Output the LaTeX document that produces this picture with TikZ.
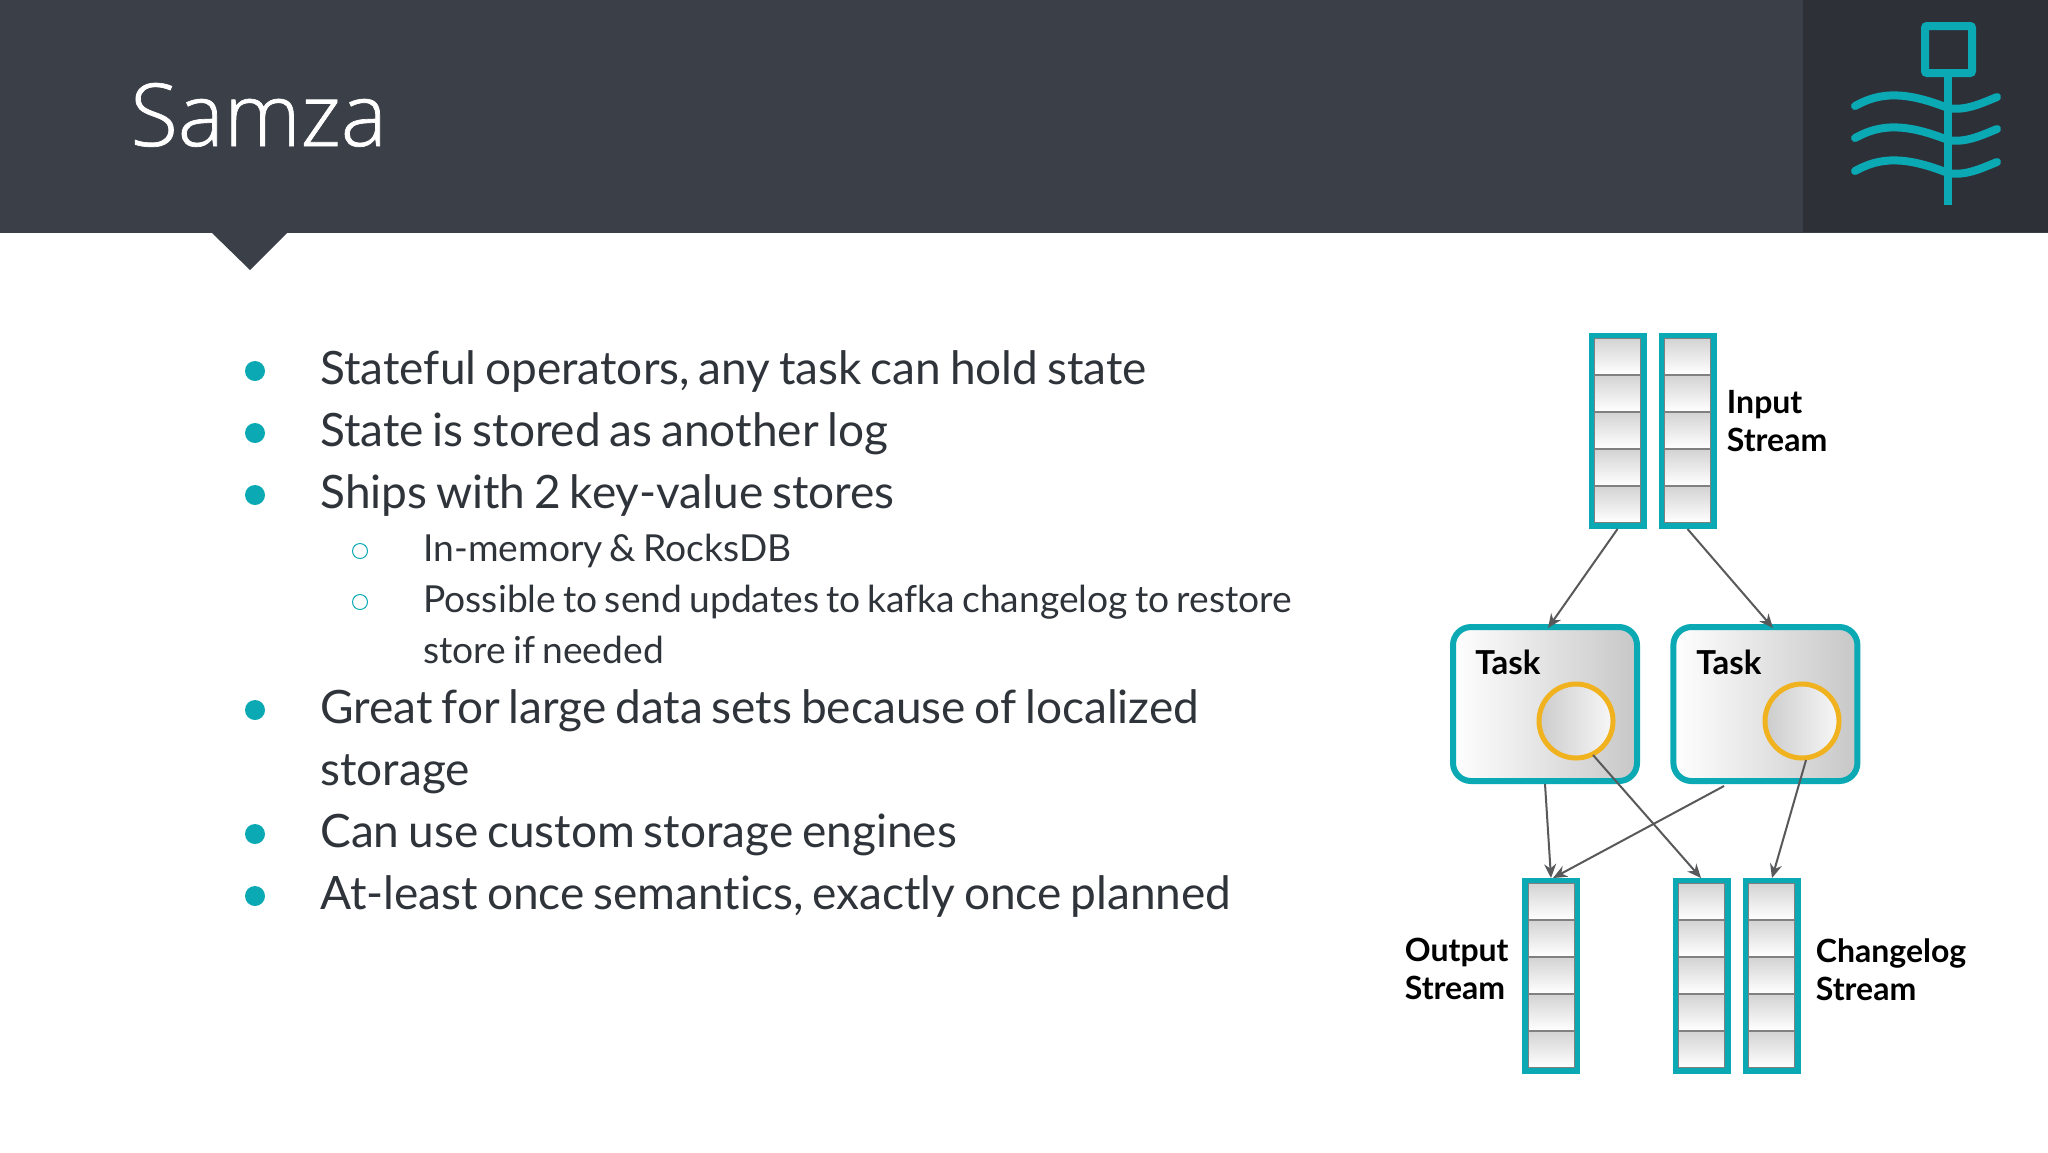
\documentclass[tikz,border=0pt]{standalone}
\usepackage{fontspec}
\usepackage{tikz}
\usetikzlibrary{positioning,arrows.meta,calc}
\setmainfont[Ligatures=NoCommon,WordSpace=0.75]{Lato}
\newfontfamily\titlefont[UprightFont=* Light,FakeBold=0.8]{Open Sans}
\newfontfamily\labelfont[Ligatures=NoCommon]{Lato}

\definecolor{headdark}{HTML}{3B3F48}
\definecolor{paneldark}{HTML}{2E3038}
\definecolor{tealline}{HTML}{0AA9B4}
\definecolor{textdark}{HTML}{2F333A}
\definecolor{arrowgray}{HTML}{58595B}
\definecolor{ringyellow}{HTML}{F0B21E}

\tikzset{
  head/.style={font=\titlefont\fontsize{43.5}{43.5}\selectfont, text=white, inner sep=0pt, anchor=base west},
  bodyline/.style={font=\fontsize{23}{23}\selectfont, text=textdark, inner sep=0pt, anchor=base west},
  subline/.style={font=\fontsize{18.6}{18.6}\selectfont, text=textdark, inner sep=0pt, anchor=base west},
  bigdot/.style={circle, fill=tealline, inner sep=0pt, minimum size=10pt},
  smalldot/.style={circle, draw=tealline, line width=0.5pt, inner sep=0pt, minimum size=7.5pt},
  streambox/.style={draw=tealline, line width=2.8pt, fill=white, inner sep=0pt, minimum width=26.2pt, minimum height=95.2pt},
  cellbox/.style={draw=gray, line width=0.5pt, top color=black!17, bottom color=white, inner sep=0pt, minimum width=23pt, minimum height=17.7pt},
  taskbox/.style={draw=tealline, line width=3pt, rounded corners=9pt, left color=white, middle color=black!7, right color=black!22, inner sep=0pt, minimum width=92pt, minimum height=77pt},
  storering/.style={circle, draw=ringyellow, line width=2.5pt, left color=black!20, right color=black!3, inner sep=0pt, minimum size=37pt},
  tasktext/.style={font=\labelfont\bfseries\fontsize{16.5}{17}\selectfont, text=black, inner sep=0pt, anchor=base west},
  sidetext/.style={font=\labelfont\bfseries\fontsize{16}{19}\selectfont, text=black, inner sep=0pt, align=left},
  flow/.style={draw=arrowgray, line width=1pt, -{Stealth[length=7pt,width=6pt]}},
  iconline/.style={draw=tealline, line width=4pt, line cap=round},
}

\newcommand{\streamcells}[1]{
  \node[cellbox, below=2.7pt of #1.north] (#1c1) {};
  \foreach \i [remember=\i as \last (initially 1)] in {2,...,5} {
    \node[cellbox, below=0.3pt of #1c\last] (#1c\i) {};
  }
}

\begin{document}
\begin{tikzpicture}[x=0.5pt, y=-0.5pt]
  \useasboundingbox (0,0) rectangle (2048,1152);
  \fill[white] (0,0) rectangle (2048,1152);

  % header
  \fill[headdark] (0,0) rectangle (2048,233);
  \fill[paneldark] (1803,0) rectangle (2048,232);
  \fill[headdark] (211,232) -- (288,232) -- (250,270) -- cycle;
  \node[head] (title) at (130,146) {Samza};

  % logo
  \draw[tealline, line width=4pt, rounded corners=1pt] (1925,26) rectangle (1972,73);
  \draw[tealline, line width=4pt] (1948,77) -- (1948,205);
  \foreach \dy in {0,32,65} {
    \draw[iconline, yshift=-\dy*0.5pt] (1855,106) .. controls (1880,92) and (1905,91) .. (1948,108) .. controls (1965,111) and (1980,104) .. (1997,97);
  }

  % list
  \node[bigdot] (dot1) at (255,371) {};
  \node[bigdot] (dot2) at (255,433) {};
  \node[bigdot] (dot3) at (255,495) {};
  \node[bigdot] (dot4) at (255,710) {};
  \node[bigdot] (dot5) at (255,834) {};
  \node[bigdot] (dot6) at (255,896) {};
  \node[smalldot] (sub1) at (360,551) {};
  \node[smalldot] (sub2) at (360,602) {};
  \node[bodyline] (line1) at (320,384) {Stateful operators, any task can hold state};
  \node[bodyline] (line2) at (320,446) {State is stored as another log};
  \node[bodyline] (line3) at (320,508) {Ships with 2 key-value stores};
  \node[subline] (line4) at (423,561) {In-memory \& RocksDB};
  \node[subline] (line5) at (423,612) {Possible to send updates to kafka changelog to restore};
  \node[subline] (line6) at (423,663) {store if needed};
  \node[bodyline] (line7) at (320,723) {Great for large data sets because of localized};
  \node[bodyline] (line8) at (320,785) {storage};
  \node[bodyline] (line9) at (320,847) {Can use custom storage engines};
  \node[bodyline] (line10) at (320,909) {At-least once semantics, exactly once planned};

  % streams
  \node[streambox] (in1) at (1617.5,431) {};
  \node[streambox, right=6pt of in1] (in2) {};
  \node[streambox] (out1) at (1551,976) {};
  \node[streambox] (log1) at (1701.5,976) {};
  \node[streambox, right=6pt of log1] (log2) {};
  \streamcells{in1}
  \streamcells{in2}
  \streamcells{out1}
  \streamcells{log1}
  \streamcells{log2}
  \node[sidetext, right=5pt of in2, yshift=5pt, anchor=west] (inlabel) {Input\\Stream};
  \node[sidetext, left=6.5pt of out1, yshift=3.3pt, anchor=east] (outlabel) {Output\\Stream};
  \node[sidetext, right=7.5pt of log2, yshift=3.3pt, anchor=west] (loglabel) {Changelog\\Stream};

  % tasks
  \node[taskbox] (task1) at (1545,704) {};
  \node[taskbox, right=15.2pt of task1] (task2) {};
  \node[storering] (store1) at (1576,721) {};
  \node[storering] (store2) at (1802,721) {};
  \node[tasktext] (tasktext1) at (1475,674) {Task};
  \node[tasktext] (tasktext2) at (1696,674) {Task};

  % flows
  \coordinate (t1top) at (1548,628);
  \coordinate (t2top) at (1773,628);
  \coordinate (t2free) at (1724,786);
  \coordinate (o1a) at (1551,878);
  \coordinate (o1b) at (1553,878);
  \coordinate (l1top) at (1701,878);
  \coordinate (l2top) at (1772,878);
  \coordinate (s1out) at (1593,755);
  \coordinate (s2out) at (1806,760);
  \draw[flow] (in1.south) -- (t1top);
  \draw[flow] (in2.south) -- (t2top);
  \draw[flow] (task1.south) -- (o1a);
  \draw[flow] (t2free) -- (o1b);
  \draw[flow] (s1out) -- (l1top);
  \draw[flow] (s2out) -- (l2top);
\end{tikzpicture}
\end{document}
